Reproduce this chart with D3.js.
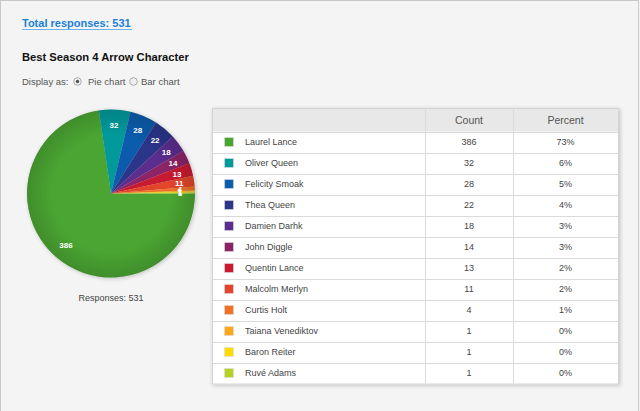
<!DOCTYPE html>
<html><head><meta charset="utf-8">
<script src="https://cdn.jsdelivr.net/npm/d3@7"></script>
<style>
html,body{margin:0;padding:0;background:#f4f4f4;}
svg{display:block;font-family:"Liberation Sans",Arial,sans-serif;}
</style></head>
<body>
<svg id="c" width="640" height="411"></svg>
<script>
const categories = ["Laurel Lance","Oliver Queen","Felicity Smoak","Thea Queen","Damien Darhk","John Diggle","Quentin Lance","Malcolm Merlyn","Curtis Holt","Taiana Venediktov","Baron Reiter","Ruvé Adams"];
const counts = [386,32,28,22,18,14,13,11,4,1,1,1];
const percents = ["73%","6%","5%","4%","3%","3%","2%","2%","1%","0%","0%","0%"];
const colors = ["#4aa532","#02999a","#0b5cad","#2b358a","#5b2d8f","#8c2467","#c81a30","#e2452b","#f07125","#fba81b","#ffdc00","#b6d024"];
const headers = ["", "Count", "Percent"];
const total = 531;

const svg = d3.select("#c");
svg.append("rect").attr("x",0.5).attr("y",0.5).attr("width",638).attr("height",420)
  .attr("fill","#f4f4f4").attr("stroke","#c8c8c8");

svg.append("text").attr("x",22).attr("y",27).attr("fill","#1a7fd9")
  .attr("font-size",11).attr("font-weight","bold").text("Total responses: " + total);
svg.append("line").attr("x1",22).attr("x2",132).attr("y1",29.5).attr("y2",29.5).attr("stroke","#6fb0ea").attr("stroke-width",1);

svg.append("text").attr("x",22).attr("y",61).attr("fill","#111")
  .attr("font-size",11.2).attr("font-weight","bold").text("Best Season 4 Arrow Character");

const disp = svg.append("g").attr("font-size",9.5);
disp.append("text").attr("x",22).attr("y",85).attr("fill","#555").text("Display as:");
disp.append("circle").attr("cx",77.5).attr("cy",81.5).attr("r",3.8).attr("fill","#eee").attr("stroke","#aaa");
disp.append("circle").attr("cx",77.5).attr("cy",81.5).attr("r",1.7).attr("fill","#555");
disp.append("text").attr("x",88).attr("y",85).attr("fill","#555").text("Pie chart");
disp.append("circle").attr("cx",133.5).attr("cy",81.5).attr("r",3.8).attr("fill","#eee").attr("stroke","#aaa");
disp.append("text").attr("x",141).attr("y",85).attr("fill","#555").text("Bar chart");

// pie
const data = categories.map((c,i)=>({name:c,count:counts[i],color:colors[i]}));
const cx = 111, cy = 193.5, R = 84;
const pie = d3.pie().value(d=>d.count).sort(null).startAngle(Math.PI/2).endAngle(Math.PI/2 + 2*Math.PI);
const arcs = pie(data);
const arc = d3.arc().innerRadius(0).outerRadius(R);
const labelArc = d3.arc().innerRadius(R*0.82).outerRadius(R*0.82);

const defs = svg.append("defs");
const rg = defs.append("radialGradient").attr("id","shade").attr("gradientUnits","userSpaceOnUse")
  .attr("cx",cx).attr("cy",cy).attr("r",R);
rg.append("stop").attr("offset","0%").attr("stop-color","#000").attr("stop-opacity",0);
rg.append("stop").attr("offset","70%").attr("stop-color","#000").attr("stop-opacity",0.0);
rg.append("stop").attr("offset","100%").attr("stop-color","#000").attr("stop-opacity",0.14);
const sh = defs.append("filter").attr("id","ds").attr("x","-20%").attr("y","-20%").attr("width","140%").attr("height","140%");
sh.append("feGaussianBlur").attr("in","SourceAlpha").attr("stdDeviation",2);
sh.append("feOffset").attr("dx",1).attr("dy",1).attr("result","b");
sh.append("feComponentTransfer").append("feFuncA").attr("type","linear").attr("slope",0.22);
const fm = sh.append("feMerge"); fm.append("feMergeNode"); fm.append("feMergeNode").attr("in","SourceGraphic");

svg.append("circle").attr("cx",cx).attr("cy",cy).attr("r",R).attr("fill","#ccc").attr("filter","url(#ds)");
const pg = svg.append("g").attr("transform",`translate(${cx},${cy})`);
pg.selectAll("path.s").data(arcs).enter().append("path").attr("class","s")
  .attr("d",arc).attr("fill",d=>d.data.color).attr("stroke","none");
svg.append("circle").attr("cx",cx).attr("cy",cy).attr("r",R).attr("fill","url(#shade)");
const lg = svg.append("g").attr("transform",`translate(${cx},${cy})`);
lg.selectAll("text").data(arcs).enter().append("text")
  .attr("transform",d=>`translate(${labelArc.centroid(d)})`)
  .attr("text-anchor","middle").attr("dy","0.35em")
  .attr("font-size",8).attr("font-weight","bold").attr("fill","#fff")
  .text(d=>d.data.count);

svg.append("text").attr("x",cx).attr("y",301).attr("text-anchor","middle")
  .attr("font-size",9).attr("fill","#444").text("Responses: " + total);

// table
const tx0 = 213, tx1 = 618, ty0 = 109;
const colX = [tx0, 425, 513, tx1];
const headH = 22.5;
const rowScale = d3.scaleBand().domain(categories).range([ty0+headH, ty0+headH+12*21]);
const tg = svg.append("g");
tg.append("rect").attr("x",tx0-0.5).attr("y",ty0-0.5).attr("width",tx1-tx0+1).attr("height",headH+12*21+1)
  .attr("fill","#fff").attr("stroke","#d4d4d4").attr("filter","url(#ds)");
tg.append("rect").attr("x",tx0).attr("y",ty0).attr("width",tx1-tx0).attr("height",headH).attr("fill","#e8e8e8");
headers.forEach((h,i)=>{
  if(!h) return;
  tg.append("text").attr("x",(colX[i]+colX[i+1])/2).attr("y",ty0+headH/2).attr("dy","0.35em")
    .attr("text-anchor","middle").attr("font-size",10.5).attr("fill","#555").text(h);
});
tg.selectAll("line.h").data(categories).enter().append("line")
  .attr("x1",tx0).attr("x2",tx1).attr("y1",d=>Math.round(rowScale(d))+0.5).attr("y2",d=>Math.round(rowScale(d))+0.5)
  .attr("stroke","#dadada");
[425,513].forEach(x=>tg.append("line").attr("x1",x+0.5).attr("x2",x+0.5).attr("y1",ty0).attr("y2",ty0+headH+12*21).attr("stroke","#dadada"));

const rows = tg.selectAll("g.r").data(data).enter().append("g").attr("class","r")
  .attr("transform",d=>`translate(0,${rowScale(d.name)})`);
const bw = rowScale.bandwidth();
rows.append("rect").attr("x",224.5).attr("y",bw/2-4.5).attr("width",9).attr("height",9)
  .attr("fill",d=>d.color).attr("stroke","#ddd").attr("stroke-width",0.6);
rows.append("text").attr("x",245).attr("y",bw/2).attr("dy","0.35em").attr("font-size",9).attr("fill","#444").text(d=>d.name);
rows.append("text").attr("x",(colX[1]+colX[2])/2).attr("y",bw/2).attr("dy","0.35em").attr("text-anchor","middle")
  .attr("font-size",9).attr("fill","#444").text(d=>d.count);
rows.append("text").attr("x",(colX[2]+colX[3])/2).attr("y",bw/2).attr("dy","0.35em").attr("text-anchor","middle")
  .attr("font-size",9).attr("fill","#444").text((d,i)=>percents[i]);
</script>
</body></html>
